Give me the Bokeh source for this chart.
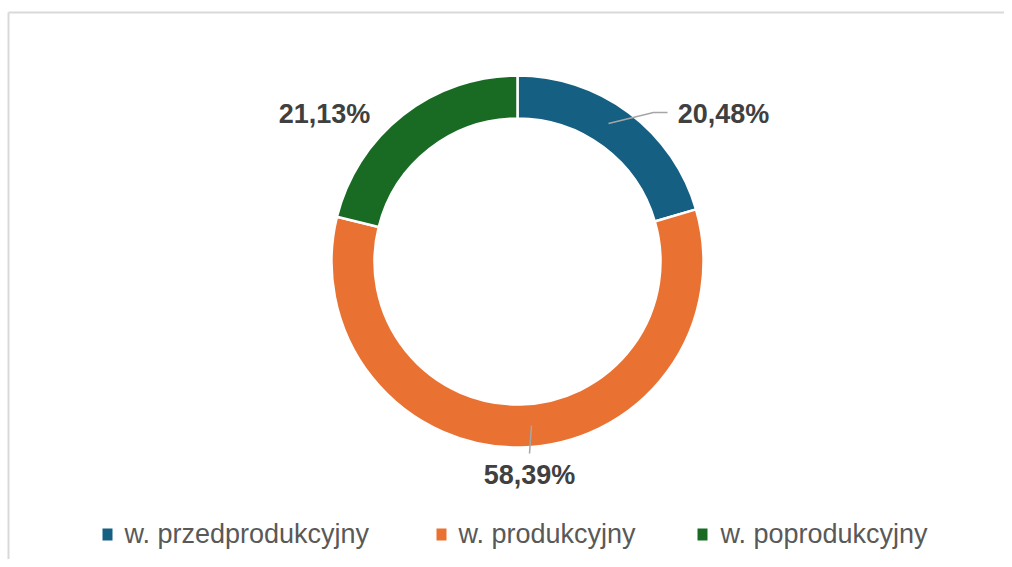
import math
from bokeh.plotting import figure
from bokeh.embed import file_html
from bokeh.resources import INLINE
from bokeh.models import ColumnDataSource, Range1d
from bokeh.core.properties import value

# ---- data ----
categories = ["w. przedprodukcyjny", "w. produkcyjny", "w. poprodukcyjny"]
shares = [20.48, 58.39, 21.13]
colors = ["#156082", "#E97132", "#196B24"]

# ---- layout (page pixels) ----
W, H = 1004, 559
OFF = 0
def X(px):
    return px - OFF
def Y(py):
    return H - (py - OFF)

cx, cy = 517, 261
r_out, r_in = 186, 143

p = figure(width=W, height=H, output_backend="svg", toolbar_location=None,
           x_range=Range1d(0, W), y_range=Range1d(0, H),
           min_border=0, outline_line_color=None)
p.axis.visible = False
p.grid.visible = False
p.background_fill_color = "white"
p.border_fill_color = "white"

# chart-area border (top and left visible)
p.segment(x0=[X(8), X(8)], y0=[Y(12), 0], x1=[W, X(8)], y1=[Y(12), Y(12)],
          line_color="#d9d9d9", line_width=2)

# donut: start at 12 o'clock, clockwise
total = sum(shares)
starts, ends = [], []
acc = 0.0
for s in shares:
    a0 = math.pi / 2 - 2 * math.pi * acc / total
    a1 = math.pi / 2 - 2 * math.pi * (acc + s) / total
    starts.append(a1)
    ends.append(a0)
    acc += s
src = ColumnDataSource(dict(start=starts, end=ends, color=colors, cat=categories))
p.annular_wedge(x=X(cx), y=Y(cy), inner_radius=r_in, outer_radius=r_out,
                start_angle="start", end_angle="end", fill_color="color",
                line_color="white", line_width=2.5, source=src)

# data labels
def fmt(v):
    return f"{v:.2f}".replace(".", ",") + "%"

label_pos = [(723, 113), (529, 474), (324, 113)]  # (center x, middle y)
lx = [X(a) for a, b in label_pos]
ly = [Y(b) for a, b in label_pos]
p.text(x=lx, y=ly, text=[fmt(v) for v in shares], text_align="center",
       text_baseline="middle", text_font=value("Liberation Sans"),
       text_font_style="bold", text_font_size="27px", text_color="#404040")

# leader lines
p.line(x=[X(608), X(653), X(667)], y=[Y(123), Y(112), Y(112)],
       line_color="#a6a6a6", line_width=1.5)
p.line(x=[X(531), X(529)], y=[Y(425), Y(453)],
       line_color="#a6a6a6", line_width=1.5)

# legend
sq_x = [107, 441, 702]
tx_x = [124, 458, 720]
p.rect(x=[X(v) for v in sq_x], y=[Y(534)] * 3, width=10, height=12,
       fill_color=colors, line_color=None)
p.text(x=[X(v) for v in tx_x], y=[Y(533)] * 3, text=categories,
       text_align="left", text_baseline="middle",
       text_font=value("Liberation Sans"), text_font_size="27px",
       text_color="#595959")

open("out.html", "w").write(file_html(p, INLINE))
